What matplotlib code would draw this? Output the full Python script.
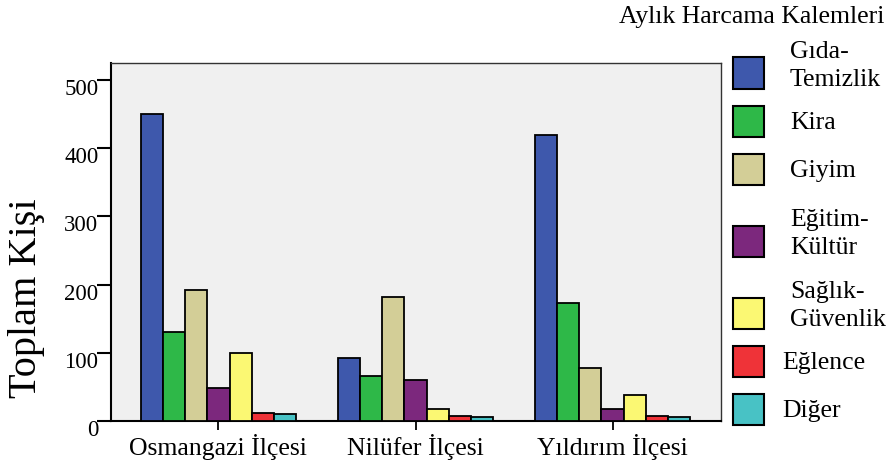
import matplotlib
matplotlib.use("Agg")
import numpy as np
import matplotlib.pyplot as plt
import matplotlib.transforms as mtransforms
from matplotlib.patches import Rectangle

plt.rcParams['font.family'] = ['Liberation Serif', 'DejaVu Serif']

districts = ["Osmangazi İlçesi", "Nilüfer İlçesi", "Yıldırım İlçesi"]
categories = ["Gıda-\nTemizlik", "Kira", "Giyim", "Eğitim-\nKültür",
              "Sağlık-\nGüvenlik", "Eğlence", "Diğer"]
colors = ["#3E58AC", "#2EB848", "#D3CE97", "#7C287D",
          "#FBF873", "#EF3338", "#48C2C5"]

# values per category, ordered as districts
gida = [450, 93, 419]
kira = [130, 66, 173]
giyim = [192, 182, 78]
egitim = [48, 60, 18]
saglik = [100, 17, 38]
eglence = [11, 7, 8]
diger = [10, 6, 6]
series = [gida, kira, giyim, egitim, saglik, eglence, diger]

W, H = 895, 466
fig = plt.figure(figsize=(W / 100, H / 100), dpi=100)
ax = fig.add_axes([111 / W, 1 - 421 / H, 610 / W, 358 / H])
ax.set_facecolor("#F0F0F0")

x = np.arange(len(districts))
w = 0.1129
for i, vals in enumerate(series):
    ax.bar(x + (i - 3) * w, vals, width=w, color=colors[i],
           edgecolor="black", linewidth=1.3, zorder=3)

ax.set_xlim(-0.545, 2.55)
ax.set_ylim(0, 525)
ax.set_yticks([0, 100, 200, 300, 400, 500])
ax.set_xticks(x)
ax.set_xticklabels(districts, fontsize=18.5)
ax.tick_params(axis="y", length=10, width=1.5, pad=-1, labelsize=16.5)
ax.tick_params(axis="x", length=6.5, width=1.3, pad=3)

# push y tick labels slightly below their ticks
shift = mtransforms.ScaledTranslation(0, -0.07, fig.dpi_scale_trans)
for lab in ax.get_yticklabels():
    lab.set_transform(lab.get_transform() + shift)

for side in ["left", "bottom"]:
    ax.spines[side].set_linewidth(1.5)
    ax.spines[side].set_color("black")
for side in ["top", "right"]:
    ax.spines[side].set_linewidth(1.0)
    ax.spines[side].set_color("#333333")

ax.set_ylabel("Toplam Kişi", fontsize=29, va="center")
ax.yaxis.set_label_coords(-0.139, 0.344)

# legend drawn by hand to mimic the layout
fig.text(752 / W, 1 - 17 / H, "Aylık Harcama Kalemleri", fontsize=18.5,
         ha="center", va="center")
row_y = [73, 121, 169, 241, 313, 361, 409]
text_x = [790, 790, 790, 790, 790, 782, 782]
box = 31
for i, lab in enumerate(categories):
    cy = row_y[i]
    fig.add_artist(Rectangle((733 / W, 1 - (cy + box / 2) / H), box / W, box / H,
                             transform=fig.transFigure, facecolor=colors[i],
                             edgecolor="black", linewidth=1.5))
    ty = cy - 7 if "\n" in lab else cy + 2
    fig.text(text_x[i] / W, 1 - ty / H, lab, fontsize=18.5, ha="left",
             va="center", linespacing=1.3)

fig.savefig("out.png", dpi=100)
